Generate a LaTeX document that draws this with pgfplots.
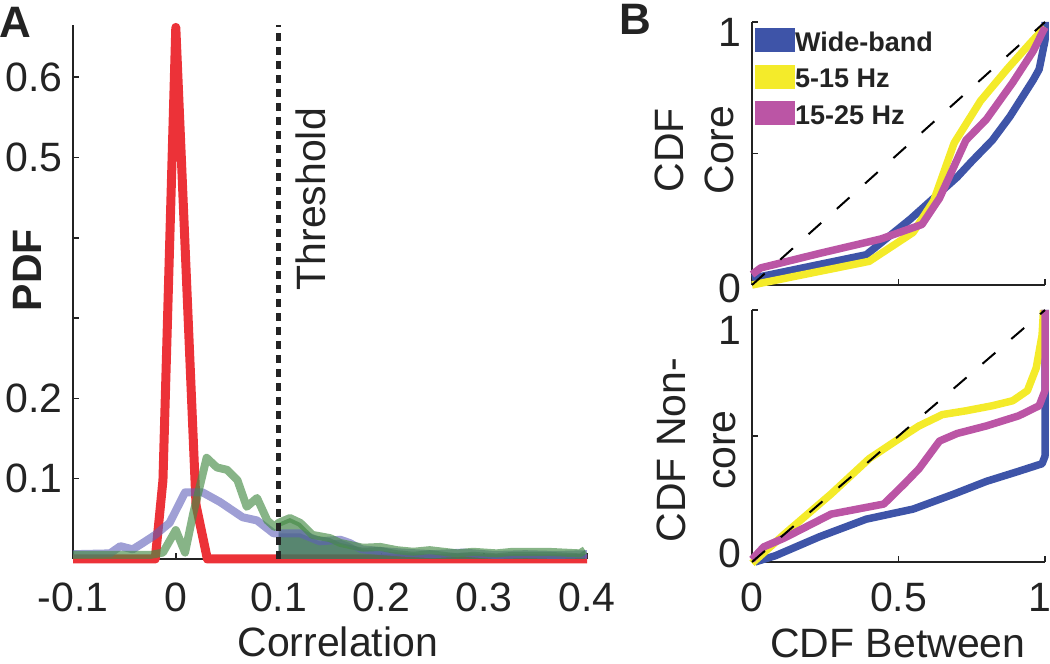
\documentclass[border=0pt]{standalone}
\usepackage{fontspec}
\setmainfont{Liberation Sans}
\usepackage{pgfplots}
\pgfplotsset{compat=1.18}
\definecolor{redA}{RGB}{236,50,56}
\definecolor{blueA}{RGB}{95,95,185}
\definecolor{greenA}{RGB}{70,140,70}
\definecolor{greenF}{RGB}{55,125,60}
\definecolor{wb}{RGB}{62,84,168}
\definecolor{yb}{RGB}{244,235,42}
\definecolor{mb}{RGB}{187,85,165}
\definecolor{axc}{RGB}{35,35,35}
\newcommand{\tf}{\fontsize{41}{50}\selectfont}

\pgfplotstableread{
x y
-0.1 0
-0.06 0
-0.02 0
-0.0125 0.098
0.0 0.662
0.0197 0.067
0.0307 0
0.1 0
0.2 0
0.3 0
0.4 0
}\tabRed

\pgfplotstableread{
x y
-0.1 0.006
-0.064 0.007
-0.054 0.016
-0.042 0.012
-0.032 0.020
-0.020 0.030
-0.006 0.045
0.009 0.083
0.026 0.083
0.043 0.071
0.065 0.052
0.079 0.048
0.095 0.032
0.1 0.032
0.121 0.032
0.140 0.022
0.160 0.024
0.169 0.020
0.181 0.012
0.199 0.010
0.22 0.008
0.25 0.006
0.28 0.008
0.31 0.005
0.34 0.006
0.37 0.005
0.40 0.006
}\tabBlue

\pgfplotstableread{
x y
0.1 0.032
0.121 0.032
0.140 0.022
0.160 0.024
0.169 0.020
0.181 0.012
0.199 0.010
0.22 0.008
0.25 0.006
0.28 0.008
0.31 0.005
0.34 0.006
0.37 0.005
0.40 0.006
}\tabBlueFill

\pgfplotstableread{
x y
-0.1 0.005
-0.025 0.005
-0.0125 0.008
0.0 0.036
0.009 0.008
0.017 0.057
0.030 0.126
0.040 0.114
0.050 0.111
0.060 0.098
0.069 0.065
0.079 0.076
0.089 0.048
0.096 0.040
0.1 0.045
0.111 0.051
0.121 0.045
0.133 0.030
0.150 0.026
0.160 0.020
0.182 0.014
0.199 0.015
0.215 0.011
0.231 0.009
0.247 0.011
0.274 0.007
0.289 0.009
0.312 0.007
0.328 0.009
0.361 0.009
0.393 0.007
0.398 0.011
}\tabGreen

\pgfplotstableread{
x y
0.1 0.045
0.111 0.051
0.121 0.045
0.133 0.030
0.150 0.026
0.160 0.020
0.182 0.014
0.199 0.015
0.215 0.011
0.231 0.009
0.247 0.011
0.274 0.007
0.289 0.009
0.312 0.007
0.328 0.009
0.361 0.009
0.393 0.007
0.398 0.011
}\tabGreenFill

\begin{document}
\begin{tikzpicture}[x=1pt,y=1pt]
\useasboundingbox (0,0) rectangle (1050,664);
\pgfplotsset{
  every axis/.append style={
    scale only axis, anchor=south west,
    axis x line*=bottom, axis y line*=left,
    axis line style={-, axc, line width=1.5pt},
    tick align=inside,
    major tick length=6pt,
    tick style={axc, line width=1.5pt},
    tick label style={font=\tf, inner sep=0pt, text=axc},
    label style={font=\tf, text=axc, inner sep=0pt},
    clip=false,
  }
}
% ---------------- Panel A ----------------
\begin{axis}[at={(73pt,105pt)}, width=514pt, height=534pt,
  xmin=-0.1, xmax=0.4, ymin=0, ymax=0.665,
  xtick={-0.1,0,0.1,0.2,0.3,0.4}, xticklabels={-0.1,0,0.1,0.2,0.3,0.4},
  xticklabel style={anchor=north, yshift=-24pt},
  ytick={0.1,0.2,0.3,0.4,0.5,0.6}, yticklabels={0.1,0.2,{},{},0.5,0.6},
  yticklabel style={xshift=-10pt},
  ylabel={\bfseries PDF},
  ylabel style={at={(axis description cs:-0.0895,0.541)}, anchor=center},
]
\addplot[redA, line width=9pt, line join=round] table {\tabRed};
\addplot[draw=none, fill=blueA, fill opacity=0.65] table {\tabBlueFill} \closedcycle;
\addplot[draw=none, fill=greenF, fill opacity=0.65] table {\tabGreenFill} \closedcycle;
\addplot[blueA, line width=8pt, opacity=0.6, line join=round] table {\tabBlue};
\addplot[greenA, line width=8pt, opacity=0.65, line join=round] table {\tabGreen};
\addplot[axc, line width=5pt, dash pattern=on 8pt off 6pt] coordinates {(0.1,0) (0.1,0.665)};
\node[rotate=90, font=\tf, text=axc] at (axis cs:0.1315,0.448) {Threshold};
\node[font=\tf, text=axc, inner sep=0pt] at (rel axis cs:0.515,-0.155) {Correlation};
\end{axis}
% ---------------- Panel B top ----------------
\begin{axis}[at={(752pt,379pt)}, width=293pt, height=263pt,
  xmin=0, xmax=1, ymin=0, ymax=1,
  xtick={0,0.5,1}, xticklabels={},
  ytick={0,0.5,1}, yticklabels={{\raisebox{-3pt}[\height][\depth]{0}},{},{\raisebox{-10pt}[\height][\depth]{1}}},
  yticklabel style={xshift=-11pt},
  ylabel={CDF\\Core},
  ylabel style={align=center, at={(axis description cs:-0.195,0.513)}, anchor=center},
  legend style={at={(rel axis cs:0.0102,0.977)}, anchor=north west, draw=none, fill=none,
    font=\fontsize{27}{30}\selectfont\bfseries, row sep=12pt, inner sep=0pt,
    nodes={inner sep=0pt, text=axc},
    cells={anchor=base west},
    /tikz/every even column/.append style={column sep=3pt}},
  legend image code/.code={\fill[#1, draw=none] (0pt,-1pt) rectangle (40pt,23pt);},
]
\addplot[wb, line width=7.5pt, line join=round] coordinates {
(0,0.025) (0.39,0.115) (0.54,0.25) (0.62,0.33) (0.70,0.41) (0.75,0.47) (0.82,0.55) (0.88,0.64) (0.96,0.78) (0.98,0.82) (1.0,0.93) (1.0,1.0)};
\addlegendentry{Wide-band}
\addplot[yb, line width=7.5pt, line join=round] coordinates {
(0,0.0) (0.40,0.09) (0.55,0.20) (0.62,0.32) (0.69,0.54) (0.78,0.70) (0.87,0.82) (0.95,0.92) (1.0,0.98)};
\addlegendentry{5-15 Hz}
\addplot[mb, line width=7.5pt, line join=round] coordinates {
(0,0.04) (0.03,0.065) (0.23,0.12) (0.44,0.175) (0.58,0.23) (0.64,0.33) (0.73,0.55) (0.80,0.63) (0.89,0.77) (0.96,0.89) (1.0,0.98)};
\addlegendentry{15-25 Hz}
\addplot[black, line width=2pt, dash pattern=on 17pt off 21pt, forget plot] coordinates {(0,0) (1,1)};
\end{axis}
% ---------------- Panel B bottom ----------------
\begin{axis}[at={(752pt,102pt)}, width=293pt, height=252pt,
  xmin=0, xmax=1, ymin=0, ymax=1,
  xtick={0,0.5,1}, xticklabels={0,0.5,{\hspace*{-10pt}1}},
  xticklabel style={anchor=north, yshift=-21pt},
  ytick={0,0.5,1}, yticklabels={{\raisebox{9pt}[\height][\depth]{0}},{},{\raisebox{-20pt}[\height][\depth]{1}}},
  yticklabel style={xshift=-11pt},
  ylabel={CDF Non-\\core},
  ylabel style={align=center, at={(axis description cs:-0.191,0.444)}, anchor=center},
]
\addplot[wb, line width=7.5pt, line join=round] coordinates {
(0.01,0.0) (0.08,0.025) (0.23,0.10) (0.39,0.17) (0.55,0.21) (0.69,0.27) (0.80,0.32) (0.91,0.36) (0.99,0.39) (1.0,0.42) (1.0,1.0)};
\addplot[yb, line width=7.5pt, line join=round] coordinates {
(0,-0.005) (0.11,0.11) (0.27,0.27) (0.40,0.41) (0.49,0.48) (0.57,0.54) (0.65,0.585) (0.73,0.60) (0.82,0.62) (0.89,0.64) (0.94,0.68) (0.97,0.77) (0.99,0.90) (0.995,1.0)};
\addplot[mb, line width=7.5pt, line join=round] coordinates {
(0,0.01) (0.04,0.06) (0.11,0.095) (0.27,0.19) (0.45,0.23) (0.52,0.31) (0.57,0.37) (0.64,0.48) (0.70,0.51) (0.80,0.54) (0.91,0.58) (0.98,0.62) (1.0,0.68) (1.0,1.0)};
\addplot[black, line width=2pt, dash pattern=on 17pt off 21pt] coordinates {(0,0) (1,1)};
\node[font=\tf, text=axc, inner sep=0pt] at (rel axis cs:0.498,-0.323) {CDF Between};
\end{axis}
% panel letters
\node[anchor=base west, font=\fontsize{44}{44}\selectfont\bfseries, text=axc, inner sep=0pt] at (-1pt,626pt) {A};
\node[anchor=base west, font=\fontsize{44}{44}\selectfont\bfseries, text=axc, inner sep=0pt] at (619pt,629pt) {B};
\end{tikzpicture}
\end{document}
